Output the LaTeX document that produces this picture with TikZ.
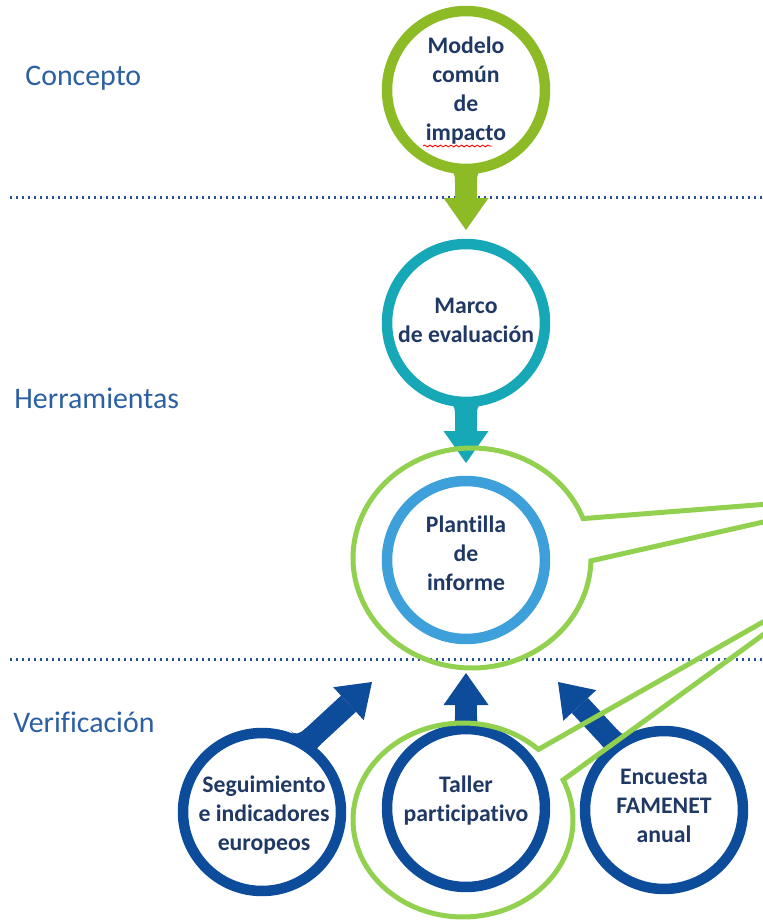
\documentclass[tikz,border=0pt]{standalone}
\usepackage{fontspec}
\setmainfont[Ligatures=NoCommon]{Carlito}
\usetikzlibrary{arrows.meta}
\usetikzlibrary{calc}
\usetikzlibrary{decorations.pathmorphing}

\definecolor{conceptgreen}{RGB}{140,187,38}
\definecolor{toolteal}{RGB}{22,168,182}
\definecolor{reportblue}{RGB}{62,160,218}
\definecolor{checkblue}{RGB}{13,76,155}
\definecolor{calloutgreen}{RGB}{146,208,80}
\definecolor{labelnavy}{RGB}{31,56,100}
\definecolor{levelblue}{RGB}{44,96,162}
\definecolor{dotblue}{RGB}{40,80,155}

\tikzset{
  ring/.style={circle, draw=#1, line width=0.21cm, minimum size=3.16cm, inner sep=0pt, outer sep=0pt},
  ringtext/.style={text=labelnavy, font=\bfseries\fontsize{13.5}{16.5}\selectfont, align=center, inner sep=0pt},
  level/.style={anchor=base west, text=levelblue, font=\fontsize{17}{20}\selectfont, inner sep=0pt},
  flow/.style={draw=#1, line width=0.44cm, -{Triangle[width=0.9cm,length=0.64cm,line width=0pt]}},
  levelline/.style={draw=dotblue, line width=0.06cm, dash pattern=on 0.05cm off 0.07cm},
  callout/.style={draw=calloutgreen, line width=0.1cm, line join=miter},
  flare/.pic={\fill (-0.4cm,0) .. controls (-0.26cm,0) and (-0.22cm,-0.08cm) .. (-0.22cm,-0.26cm) -- (0.22cm,-0.26cm) .. controls (0.22cm,-0.08cm) and (0.26cm,0) .. (0.4cm,0) -- cycle;}
}

\begin{document}
\begin{tikzpicture}[x=0.02cm, y=-0.02cm]
\useasboundingbox (0,0) rectangle (763,920);
\clip (0,0) rectangle (763,920);

% levels
\node[level] (concepto) at (25,85) {Concepto};
\node[level] (herramientas) at (14,408) {Herramientas};
\node[level] (verificacion) at (13,732) {Verificación};

\coordinate (sepA-l) at (10,197);
\coordinate (sepA-r) at (763,197);
\coordinate (sepB-l) at (10,659);
\coordinate (sepB-r) at (763,659);
\draw[levelline] (sepA-l) -- (sepA-r);
\draw[levelline] (sepB-l) -- (sepB-r);

% rings
\node[ring=conceptgreen] (modelo) at (466,90) {};
\node[ring=toolteal] (marco) at (466,323) {};
\node[ring=reportblue] (plantilla) at (466,560) {};
\node[ring=checkblue] (seguimiento) at (262,812) {};
\node[ring=checkblue] (taller) at (466,808) {};
\node[ring=checkblue] (encuesta) at (664,810) {};

\node[ringtext] (modelo-t) at (466,91) {Modelo\\común\\de\\impacto};
\node[ringtext] (marco-t) at (466,320) {Marco\\de evaluación};
\node[ringtext] (plantilla-t) at (466,553) {Plantilla\\de\\informe};
\node[ringtext] (seguimiento-t) at (264,815) {Seguimiento\\e indicadores\\europeos};
\node[ringtext] (taller-t) at (466,801) {Taller\\participativo};
\node[ringtext] (encuesta-t) at (664,806) {Encuesta\\FAMENET\\anual};

\draw[red, line width=0.5pt, decorate, decoration={snake, amplitude=0.5pt, segment length=3pt}] (423,146) -- (492,146);

% arrows
\coordinate (tipS) at (372,682);
\coordinate (tipT) at (466,673);
\coordinate (tipE) at (558,682);

\draw[flow=conceptgreen, shorten >=0.28cm] (modelo) -- (marco);
\pic[fill=conceptgreen] at (modelo.south) {flare};
\draw[flow=toolteal, shorten >=0.36cm] (marco) -- (plantilla);
\pic[fill=toolteal] at (marco.south) {flare};

\draw[flow=checkblue] (seguimiento.58) -- (tipS);
\pic[fill=checkblue, rotate=132.8] at (seguimiento.58) {flare};
\draw[flow=checkblue] (taller.north) -- (tipT);
\pic[fill=checkblue, rotate=180] at (taller.north) {flare};
\draw[flow=checkblue] (encuesta.126) -- (tipE);
\pic[fill=checkblue, rotate=222.9] at (encuesta.126) {flare};

% callouts
\coordinate (calloutA) at (472,558);
\coordinate (pointA) at (883,495);
\coordinate (calloutB) at (463,820);
\coordinate (pointB) at (844,576);
\draw[callout] (pointA) -- ([shift={(21:2.38cm and 2.2cm)}]calloutA) arc[start angle=21, end angle=358.5, x radius=2.38cm, y radius=2.2cm] -- cycle;
\draw[callout] (pointB) -- ([shift={(46.7:2.2cm and 1.94cm)}]calloutB) arc[start angle=46.7, end angle=384.4, x radius=2.2cm, y radius=1.94cm] -- cycle;
\end{tikzpicture}
\end{document}
